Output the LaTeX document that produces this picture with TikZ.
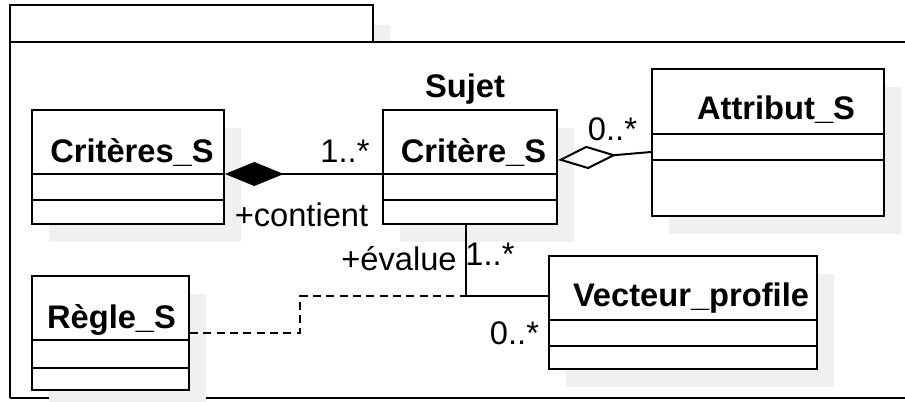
\documentclass[tikz,border=0pt]{standalone}
\usepackage{fontspec}
\setmainfont{Liberation Sans}
\usepackage{tikz}
\usetikzlibrary{shadows,arrows.meta,positioning}
\tikzstyle{classbox}=[rectangle, draw, line width=1.5pt, fill=white, inner sep=0pt, drop shadow={shadow xshift=13pt, shadow yshift=-13.5pt, fill=black!6, opacity=1}]
\tikzstyle{clname}=[anchor=base, inner sep=0pt, font=\fontsize{24.5}{29}\selectfont\bfseries]
\tikzstyle{rolelabel}=[anchor=base, inner sep=0pt, font=\fontsize{24.5}{29}\selectfont]
\tikzstyle{compline}=[line width=2pt]
\tikzstyle{frameline}=[line width=1.5pt]
\tikzstyle{compo}=[{Diamond[length=44pt,width=18pt]}-, line width=1.5pt]
\tikzstyle{aggreg}=[{Diamond[open,length=44pt,width=17.5pt]}-, line width=1.5pt]
\tikzstyle{assoc}=[line width=1.5pt]
\tikzstyle{dashline}=[line width=1.3pt, dash pattern=on 6pt off 4pt]

\begin{document}
\begin{tikzpicture}[x=0.75pt,y=-0.75pt]
\useasboundingbox (0,0) rectangle (905,401);
\clip (0,0) rectangle (905,401);
%Package frame
\fill[black!6] (27,25) rectangle (390,42);
\filldraw[frameline,fill=white] (10,42) -- (10,5) -- (373,5) -- (373,42);
\draw[frameline,line width=2pt] (10,42) -- (910,42);
\draw[frameline] (10,398) -- (10,42);
\draw[frameline] (10,398) -- (910,398);

%Classes
\node[classbox, minimum width=144pt, minimum height=85.5pt] (crits) at (128,167) {};
\node[classbox, minimum width=130.5pt, minimum height=85.5pt] (crit) at (470,167) {};
\node[classbox, minimum width=174pt, minimum height=110.25pt] (attr) at (768,142.5) {};
\node[classbox, minimum width=201pt, minimum height=84.75pt] (vect) at (683,312.5) {};
\node[classbox, minimum width=117.75pt, minimum height=85.5pt] (regle) at (110.5,333) {};

%Compartments
\draw[compline] (crits.west |- 0,174) -- (crits.east |- 0,174);
\draw[compline] (crits.west |- 0,200) -- (crits.east |- 0,200);
\draw[compline] (crit.west |- 0,174) -- (crit.east |- 0,174);
\draw[compline] (crit.west |- 0,200) -- (crit.east |- 0,200);
\draw[compline] (attr.west |- 0,134) -- (attr.east |- 0,134);
\draw[compline] (attr.west |- 0,160) -- (attr.east |- 0,160);
\draw[compline] (vect.west |- 0,320) -- (vect.east |- 0,320);
\draw[compline] (vect.west |- 0,346) -- (vect.east |- 0,346);
\draw[compline] (regle.west |- 0,340) -- (regle.east |- 0,340);
\draw[compline] (regle.west |- 0,368) -- (regle.east |- 0,368);

%Names
\node[clname] (critsname) at (132,162) {Critères\_S};
\node[clname] (critname) at (473.5,162) {Critère\_S};
\node[clname] (sujet) at (465,97) {Sujet};
\node[clname] (attrname) at (776,119) {Attribut\_S};
\node[clname] (vectname) at (691,306) {Vecteur\_profile};
\node[clname] (reglename) at (111.5,328) {Règle\_S};

%Links
\coordinate (elbow) at (466,296);
\draw[compo] (crits.east |- 0,174) -- (crit.west |- 0,174);
\draw[aggreg] (crit.east |- 0,160) -- (attr.west |- 0,152);
\draw[assoc] (crit.south -| elbow) -- (elbow) -- (vect.west |- elbow);
\draw[dashline] (regle.east |- 0,333) -| (300,296) -- (elbow);

%Role labels
\node[rolelabel] (m1) at (345,162) {1..*};
\node[rolelabel] (contient) at (301.5,226) {+contient};
\node[rolelabel] (m2) at (612.5,140) {0..*};
\node[rolelabel] (evalue) at (399,270) {+évalue};
\node[rolelabel] (m3) at (490,265) {1..*};
\node[rolelabel] (m4) at (514.5,344) {0..*};
\end{tikzpicture}
\end{document}
